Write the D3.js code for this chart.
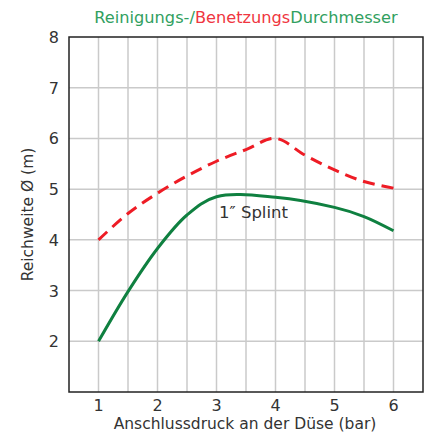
<!DOCTYPE html>
<html>
<head>
<meta charset="utf-8">
<script src="https://cdn.jsdelivr.net/npm/d3@7"></script>
<style>
  body { margin: 0; background: #fff; }
  text { font-family: "DejaVu Sans", sans-serif; fill: #333; }
</style>
</head>
<body>
<div id="chart"></div>
<script>
const wettingPressure = [1, 1.5, 2, 2.5, 3, 3.5, 4, 4.5, 5, 5.5, 6];
const wettingDiameter = [4.0, 4.52, 4.92, 5.26, 5.55, 5.78, 6.0, 5.67, 5.38, 5.15, 5.02];
const cleaningPressure = [1, 1.5, 2, 2.5, 3, 4, 5, 5.5, 6];
const cleaningDiameter = [2.0, 2.98, 3.83, 4.49, 4.85, 4.84, 4.64, 4.46, 4.18];
const xTicks = [1, 2, 3, 4, 5, 6];
const yTicks = [2, 3, 4, 5, 6, 7, 8];

const width = 430, height = 432;
const margin = {top: 37, right: 7, bottom: 40, left: 69};

const svg = d3.select("#chart")
    .append("svg")
    .attr("width", width)
    .attr("height", height);

const x = d3.scaleLinear().domain([0.5, 6.5]).range([margin.left, width - margin.right]);
const y = d3.scaleLinear().domain([1, 8]).range([height - margin.bottom, margin.top]);

// grid
svg.append("g")
    .selectAll("line")
    .data(d3.range(1, 6.01, 0.5))
    .join("line")
    .attr("x1", d => x(d)).attr("x2", d => x(d))
    .attr("y1", y(1)).attr("y2", y(8))
    .attr("stroke", "#cacaca")
    .attr("stroke-width", 1.5);

svg.append("g")
    .selectAll("line")
    .data(d3.range(2, 8))
    .join("line")
    .attr("x1", x(0.5)).attr("x2", x(6.5))
    .attr("y1", d => y(d)).attr("y2", d => y(d))
    .attr("stroke", "#cacaca")
    .attr("stroke-width", 1.5);

// frame
svg.append("rect")
    .attr("x", x(0.5)).attr("y", y(8))
    .attr("width", x(6.5) - x(0.5))
    .attr("height", y(1) - y(8))
    .attr("fill", "none")
    .attr("stroke", "#222")
    .attr("stroke-width", 1.5);

// tick labels
svg.append("g")
    .selectAll("text")
    .data(xTicks)
    .join("text")
    .attr("x", d => x(d))
    .attr("y", 411)
    .attr("text-anchor", "middle")
    .style("font-size", "16px")
    .text(d => d);

svg.append("g")
    .selectAll("text")
    .data(yTicks)
    .join("text")
    .attr("x", 59)
    .attr("y", d => y(d) + 6)
    .attr("text-anchor", "end")
    .style("font-size", "16px")
    .text(d => d);

// axis titles
svg.append("text")
    .attr("x", x(3.5) - 1)
    .attr("y", 429)
    .attr("text-anchor", "middle")
    .style("font-size", "15.5px")
    .text("Anschlussdruck an der Düse (bar)");

svg.append("text")
    .attr("transform", `translate(33,${(y(1) + y(8)) / 2}) rotate(-90)`)
    .attr("text-anchor", "middle")
    .style("font-size", "15.5px")
    .text("Reichweite Ø (m)");

// title
const title = svg.append("text")
    .attr("x", 246)
    .attr("y", 23)
    .attr("text-anchor", "middle")
    .style("font-size", "16.2px");
title.append("tspan").style("fill", "#31a060").text("Reinigungs-/");
title.append("tspan").style("fill", "#ef3540").text("Benetzungs");
title.append("tspan").style("fill", "#31a060").text("Durchmesser");

// lines
const line = d3.line()
    .x(d => x(d[0]))
    .y(d => y(d[1]))
    .curve(d3.curveCatmullRom.alpha(0.5));

svg.append("path")
    .datum(d3.zip(wettingPressure, wettingDiameter))
    .attr("d", line)
    .attr("fill", "none")
    .attr("stroke", "#ee1c25")
    .attr("stroke-width", 3)
    .attr("stroke-dasharray", "12,7");

svg.append("path")
    .datum(d3.zip(cleaningPressure, cleaningDiameter))
    .attr("d", line)
    .attr("fill", "none")
    .attr("stroke", "#0f8040")
    .attr("stroke-width", 3);

svg.append("text")
    .attr("x", 219)
    .attr("y", 218)
    .style("font-size", "16.5px")
    .text("1″ Splint");
</script>
</body>
</html>
